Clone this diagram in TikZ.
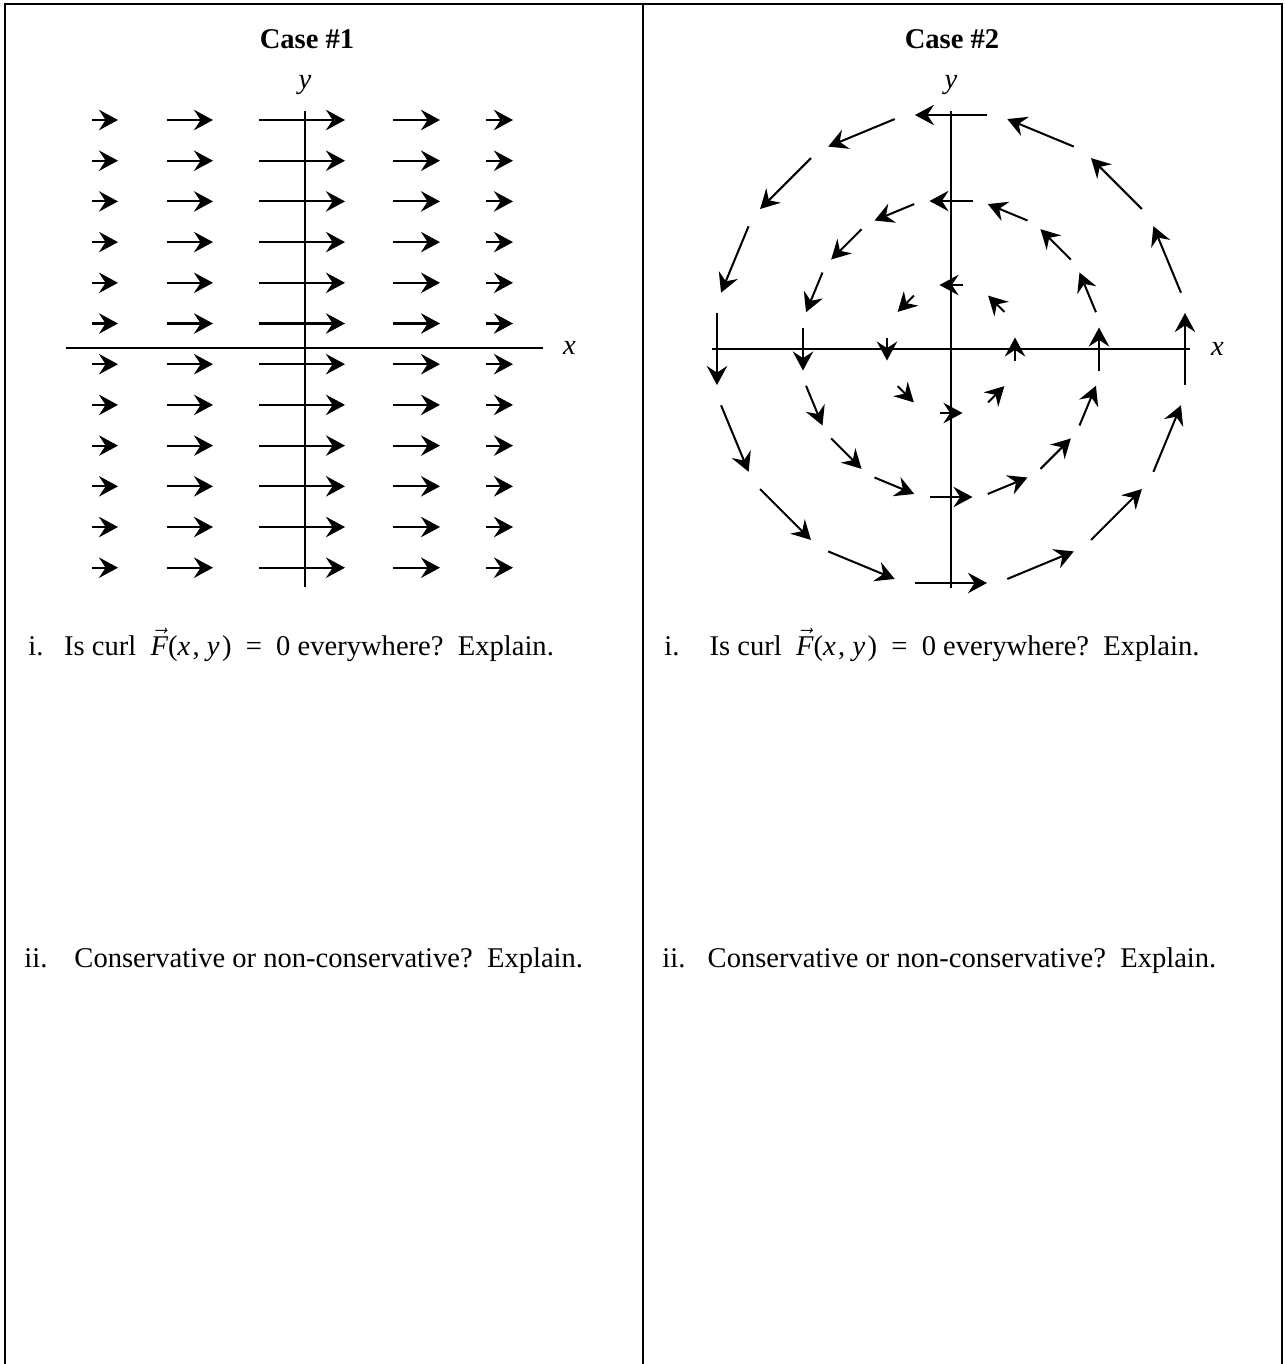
\documentclass[tikz,border=0pt,12pt]{standalone}
\usepackage{fontspec}
\setmainfont{Liberation Serif}
\usetikzlibrary{arrows.meta}

\tikzset{
  vec/.style={-{Stealth[length=8pt,width=8.6pt,inset=2.8pt]}, line width=0.85pt},
  axis/.style={line width=0.85pt},
  qline/.style={anchor=base west, inner sep=0pt}
}
\newcommand{\curlF}{$\vec{\textit{F}}$(\textit{x}\kern1pt,\ \textit{y}\kern1pt)\hspace{6pt}=\hspace{6pt}0}

\begin{document}
\begin{tikzpicture}[x=0.42pt, y=-0.42pt]
    \useasboundingbox (0,0) rectangle (1285,1364);
    % table frame
    \draw[line width=1pt] (5,1364) -- (5,4) -- (1282,4) -- (1282,1364);
    \draw[line width=1pt] (643,4) -- (643,1364);

    \node[anchor=base, font=\bfseries] (head1) at (307,48) {Case \#1};
    \node[anchor=base, font=\bfseries] (head2) at (952,48) {Case \#2};

    % case 1: horizontal field
    \draw[axis] (305,111) -- (305,587);
    \draw[axis] (66,348) -- (543,348);
    \node[anchor=base] (ylab1) at (305,88) {\textit{y}};
    \node[anchor=base west] (xlab1) at (553,354) {\textit{x}};
    \foreach \y in {0,...,11} {
      \foreach \a/\b in {92/118, 167/213, 259/345, 393/440, 486/513}
        \draw[vec] (\a,{120+40.7*\y}) -- (\b,{120+40.7*\y});
    }

    % case 2: rotating field
    \draw[axis] (951,111) -- (951,588);
    \draw[axis] (712,349) -- (1190,349);
    \node[anchor=base] (ylab2) at (951,88) {\textit{y}};
    \node[anchor=base west] (xlab2) at (1201,355) {\textit{x}};
    \begin{scope}[shift={(951,349)}, yscale=-1]
      \foreach \r/\l/\n in {234/36/16, 148/21.5/16, 64/11.5/8} {
        \foreach \k in {1,...,\n} {
          \pgfmathsetmacro\a{360/\n*\k}
          \draw[vec] ({\r*cos(\a)+\l*sin(\a)},{\r*sin(\a)-\l*cos(\a)})
            -- ({\r*cos(\a)-\l*sin(\a)},{\r*sin(\a)+\l*cos(\a)});
        }
      }
    \end{scope}

    % questions
    \node[qline] (qa1) at (28,655) {\makebox[15pt][l]{i.}Is curl\ \ \curlF{} everywhere?\ \ Explain.};
    \node[qline] (qb1) at (24,967) {\makebox[21pt][l]{ii.}Conservative or non-conservative?\ \ Explain.};
    \node[qline] (qa2) at (664,655) {\makebox[19pt][l]{i.}Is curl\ \ \curlF{} everywhere?\ \ Explain.};
    \node[qline] (qb2) at (662,967) {\makebox[19pt][l]{ii.}Conservative or non-conservative?\ \ Explain.};
  \end{tikzpicture}
\end{document}
